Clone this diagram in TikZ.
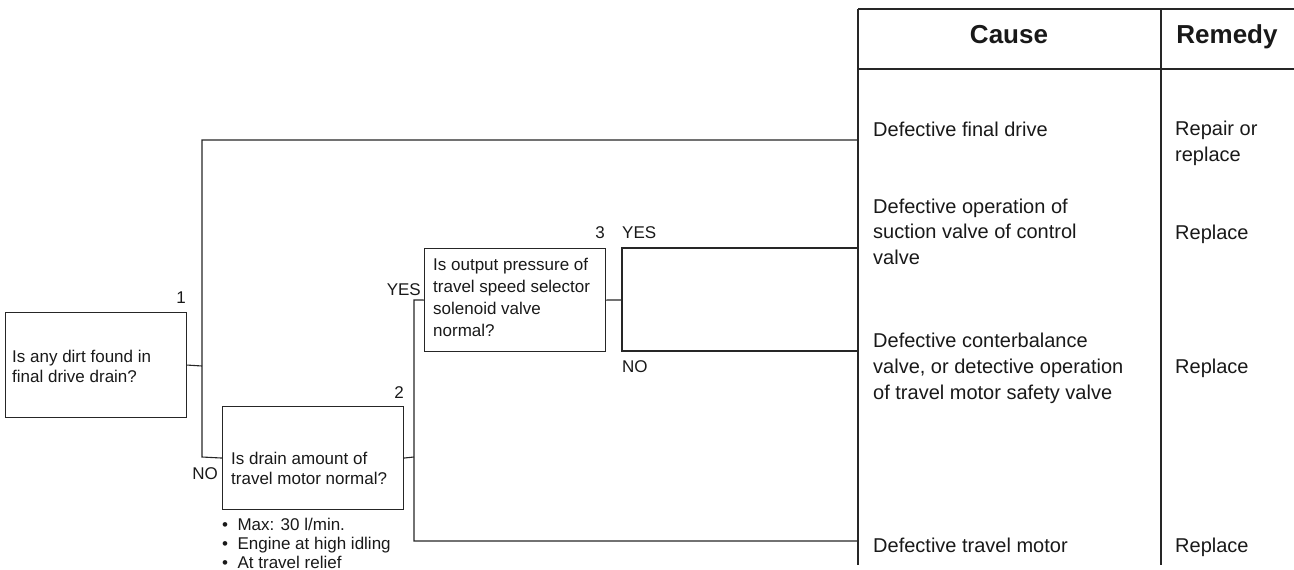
\documentclass[tikz,border=0pt]{standalone}
\usepackage{fontspec}
\setmainfont{Liberation Sans}
\begin{document}
\begin{tikzpicture}[x=1pt,y=-1pt,
  ln/.style={line width=1.1pt, draw=black!85},
  qbox/.style={draw=black!85, line width=1.1pt, rectangle, inner sep=0pt, anchor=north west},
  qtxt/.style={anchor=base west, inner sep=0pt, align=left, text=black!90, font=\fontsize{17}{20}\selectfont},
  lbl/.style={inner sep=0pt, text=black!90, font=\fontsize{17}{20}\selectfont},
  ctxt/.style={anchor=base west, inner sep=0pt, align=left, text=black!90, font=\fontsize{20}{25.5}\selectfont},
  htxt/.style={anchor=base, inner sep=0pt, text=black!90, font=\fontsize{26}{30}\selectfont\bfseries}
]
\useasboundingbox (0,0) rectangle (1294,570);

% table frame
\coordinate (tl) at (858,9);
\coordinate (tr) at (1294,9);
\coordinate (hl) at (858,69);
\coordinate (hr) at (1294,69);
\coordinate (bl) at (858,565);
\coordinate (st) at (1161,9);
\coordinate (sb) at (1161,565);
\draw[ln] (tl) -- (tr);
\draw[ln] (hl) -- (hr);
\draw[ln] (tl) -- (bl);
\draw[ln] (st) -- (sb);

\node[htxt] (hcause) at (1009,43) {Cause};
\node[htxt] (hremedy) at (1227,43) {Remedy};

% question boxes
\node[qbox, minimum width=181pt, minimum height=105pt] (b1) at (5,312) {};
\node[qbox, minimum width=181pt, minimum height=103pt] (b2) at (222,406) {};
\node[qbox, minimum width=181pt, minimum height=103pt] (b3) at (424,248) {};

% (base anchor of a multi-line node = baseline of its last line)
\node[qtxt] (t1) at (12,382) {Is any dirt found in\\final drive drain?};
\node[qtxt, font=\fontsize{17}{19.5}\selectfont] (t2) at (231,484) {Is drain amount of\\travel motor normal?};
\node[qtxt, font=\fontsize{17}{22}\selectfont] (t3) at (433,336) {Is output pressure of\\travel speed selector\\solenoid valve\\normal?};
\node[qtxt, font=\fontsize{17}{19}\selectfont] (notes) at (222,568) {\textbullet\ \ Max: 30 l/min.\\\textbullet\ \ Engine at high idling\\\textbullet\ \ At travel relief};

\node[lbl, anchor=base east] (n1) at (186,303) {1};
\node[lbl, anchor=base east] (n2) at (404,398) {2};
\node[lbl, anchor=base east] (n3) at (605,238) {3};
\node[lbl, anchor=base west] (y3) at (622,238) {YES};
\node[lbl, anchor=base west] (no3) at (622,372) {NO};
\node[lbl, anchor=base east] (y2) at (421,295) {YES};
\node[lbl, anchor=base east] (no1) at (218,479) {NO};

% junctions
\coordinate (j1t) at (202,140);
\coordinate (j1m) at (202,366);
\coordinate (j1b) at (202,457);
\coordinate (j2m) at (414,457);
\coordinate (j2t) at (414,300);
\coordinate (j2b) at (414,541);
\coordinate (j3m) at (622,300);
\coordinate (j3t) at (622,248);
\coordinate (j3b) at (622,351);
\coordinate (e1) at (858,140);
\coordinate (e2) at (858,248);
\coordinate (e3) at (858,351);
\coordinate (e4) at (858,541);

\draw[ln] (b1.east) -- (j1m);
\draw[ln] (e1) -- (j1t) -- (j1b) -- (b2.west);
\draw[ln] (b2.east) -- (j2m);
\draw[ln] (b3.west) -- (j2t) -- (j2b) -- (e4);
\draw[ln] (b3.east) -- (j3m);
\draw[ln] (e2) -- (j3t) -- (j3b) -- (e3);

% causes
\node[ctxt] (c1) at (873,136) {Defective final drive};
\node[ctxt] (c2) at (873,264) {Defective operation of\\suction valve of control\\valve};
\node[ctxt, font=\fontsize{20}{26}\selectfont] (c3) at (873,399) {Defective conterbalance\\valve, or detective operation\\of travel motor safety valve};
\node[ctxt] (c4) at (873,552) {Defective travel motor};

\node[ctxt] (r1) at (1175,161) {Repair or\\replace};
\node[ctxt] (r2) at (1175,239) {Replace};
\node[ctxt] (r3) at (1175,373) {Replace};
\node[ctxt] (r4) at (1175,552) {Replace};
\end{tikzpicture}
\end{document}
